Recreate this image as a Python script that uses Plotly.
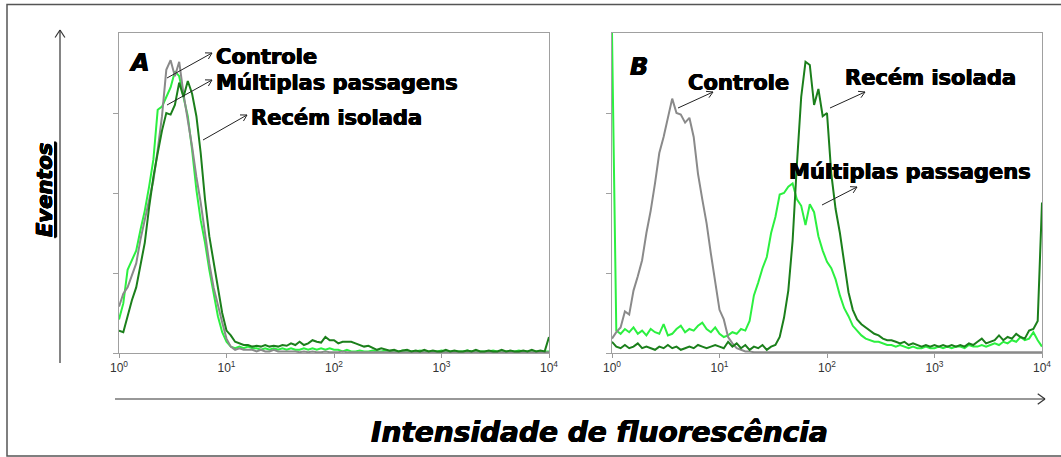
import math
import plotly.graph_objects as go

W, H = 1061, 457

# ---------------- data ----------------
# histogram channels on a log scale (decades from 10^0 to 10^4)
channel_log = [round(0.04 * i, 2) for i in range(101)]

# Panel A
a_controle = [29, 37, 41, 48, 56, 71, 83, 96, 108, 127,
              148, 177, 183, 173, 182, 162, 146, 129, 110, 94,
              75, 56, 41, 29, 19, 9, 4, 2, 3, 2,
              2, 2, 1, 2, 1, 1, 2, 1, 1, 1,
              1, 1, 0.5, 1, 0.5, 1, 0.5, 0.5, 1, 0.5,
              0.5, 0.5, 1, 0.5, 0.5, 0.5, 0.5, 0.5, 0.5, 0.5,
              0.5, 0.5, 0.5, 0.5, 0.5, 0.5, 0.5, 0.5, 0.5, 0.5,
              0.5, 0.5, 0.5, 0.5, 0.5, 0.5, 0.5, 0.5, 0.5, 0.5,
              0.5, 0.5, 0.5, 0.5, 0.5, 0.5, 0.5, 0.5, 0.5, 0.5,
              0.5, 0.5, 0.5, 0.5, 0.5, 0.5, 0.5, 0.5, 0.5, 0.5,
              0.5]
a_multiplas = [21, 31, 52, 58, 64, 77, 89, 104, 121, 152,
               154, 160, 166, 176, 173, 160, 148, 127, 102, 83,
               69, 52, 37, 23, 13, 7, 4, 3, 4, 3,
               4, 3, 3, 2, 3, 2, 3, 2, 3, 2,
               3, 2, 2, 3, 2, 3, 2, 3, 2, 3,
               2, 2, 1, 2, 1, 1, 1.5, 1, 1, 1.5,
               1, 1, 1.5, 1, 1, 1, 1.5, 1, 1, 1,
               1.5, 1, 1, 1, 1, 1.5, 1, 1, 1, 1,
               1, 1.5, 1, 1, 1, 1, 1, 1.5, 1, 1,
               1, 1, 1, 1.5, 1, 1, 1, 1, 1, 1,
               1]
a_recem = [14, 13, 23, 33, 41, 54, 69, 91, 110, 125,
           139, 150, 149, 155, 169, 160, 170, 162, 148, 125,
           96, 73, 56, 39, 25, 14, 11, 7, 6, 5,
           5, 4, 4.5, 4, 5, 4, 4.5, 4, 5, 4.5,
           6, 5, 7, 5, 6, 8, 7, 6.5, 10, 8,
           8, 6, 7, 7, 7, 6, 5, 4, 4.5, 3,
           2, 3, 2, 1.5, 2, 1, 1.5, 2, 1, 1.5,
           1, 2, 1, 1.5, 1, 1, 2, 1, 1.5, 1,
           1, 1.5, 1, 2, 1, 1, 1.5, 1, 1, 2,
           1, 1.5, 1, 1, 1.5, 1, 2, 1, 1.5, 1,
           10]

# Panel B
b_controle = [9, 13, 16, 26, 24, 39, 48, 58, 75, 89,
              106, 125, 135, 148, 159, 150, 149, 144, 147, 135,
              112, 96, 81, 62, 44, 27, 21, 10, 6, 3,
              2, 1, 1, 0.5, 0.5, 0.5, 0.5, 0.5, 0.5, 0.5,
              0.5, 0.5, 0.5, 0.5, 0.5, 0.5, 0.5, 0.5, 0.5, 0.5,
              0.5, 0.5, 0.5, 0.5, 0.5, 0.5, 0.5, 0.5, 0.5, 0.5,
              0.5, 0.5, 0.5, 0.5, 0.5, 0.5, 0.5, 0.5, 0.5, 0.5,
              0.5, 0.5, 0.5, 0.5, 0.5, 0.5, 0.5, 0.5, 0.5, 0.5,
              0.5, 0.5, 0.5, 0.5, 0.5, 0.5, 0.5, 0.5, 0.5, 0.5,
              0.5, 0.5, 0.5, 0.5, 0.5, 0.5, 0.5, 0.5, 0.5, 0.5,
              0.5]
b_multiplas = [200, 14, 12, 15, 13, 16, 12, 14, 11, 15,
               13, 12, 18, 11, 12, 15, 17, 13, 15, 14,
               17, 19, 15, 13, 16, 12, 10, 11, 13, 12,
               15, 14, 20, 36, 44, 53, 60, 75, 85, 99,
               100, 104, 106, 96, 92, 80, 93, 88, 73, 64,
               57, 53, 46, 36, 28, 23, 17, 14, 11, 9,
               8, 7, 7, 6, 5, 5, 4, 5, 4, 3,
               4, 3, 3, 4, 3, 3, 4, 3, 4, 3,
               4, 4, 3, 5, 4, 4, 5, 4, 5, 6,
               5, 7, 6, 8, 7, 10, 8, 9, 13, 8,
               4]
b_recem = [7, 4, 3, 5, 3, 4, 6, 3, 4, 3,
           2, 4, 3, 5, 3, 4, 2, 3, 4, 3,
           5, 4, 3, 4, 5, 4, 3, 7, 4, 6,
           3, 5, 2, 4, 3, 5, 2, 4, 5, 10,
           22, 39, 70, 118, 160, 182, 180, 155, 165, 148,
           150, 112, 90, 75, 56, 38, 27, 21, 18, 16,
           14, 12, 11, 9, 8, 8, 7, 6, 7, 5,
           6, 5, 4, 5, 4, 5, 4, 5, 4, 5,
           4, 5, 4, 6, 5, 7, 9, 6, 7, 8,
           11, 8, 10, 9, 12, 10, 9, 14, 15, 20,
           94]

tick_vals = [1, 10, 100, 1000, 10000]
tick_text = ["10<sup>0</sup>", "10<sup>1</sup>", "10<sup>2</sup>",
             "10<sup>3</sup>", "10<sup>4</sup>"]
count_ticks = [0, 50, 100, 150]

series_names = ["Múltiplas passagens", "Controle", "Recém isolada"]
series_colors = ["#2cf040", "#8a8a8a", "#1b7f1b"]

intensity = [10 ** c for c in channel_log]

# ---------------- figure ----------------
fig = go.Figure()

panel_data = [
    ("x", "y", [a_multiplas, a_controle, a_recem]),
    ("x2", "y2", [b_multiplas, b_controle, b_recem]),
]
for xa, ya, ser in panel_data:
    for name, col, vals in zip(series_names, series_colors, ser):
        fig.add_trace(go.Scatter(
            x=intensity, y=vals, mode="lines", name=name,
            line=dict(color=col, width=2), xaxis=xa, yaxis=ya,
            showlegend=False, hoverinfo="skip"))


def px(x):
    return x / W


def py(y):
    return 1 - y / H


xcommon = dict(type="log", range=[0, 4], tickvals=tick_vals, ticktext=tick_text,
               ticks="outside", ticklen=4, tickcolor="#999999",
               tickfont=dict(family="Liberation Sans, Arial", size=12, color="#333333"),
               showline=True, linecolor="#a0a0a0", linewidth=1, mirror=True,
               showgrid=False, zeroline=False, fixedrange=True, automargin=False)
ycommon = dict(range=[0, 200], tickvals=count_ticks, showticklabels=False,
               ticks="outside", ticklen=5, tickcolor="#a0a0a0",
               showline=True, linecolor="#a0a0a0", linewidth=1, mirror=True,
               showgrid=False, zeroline=False, fixedrange=True, automargin=False)

ydom = [py(353), py(33)]
fig.update_layout(
    width=W, height=H, autosize=False,
    margin=dict(l=0, r=0, t=0, b=0, pad=0),
    paper_bgcolor="white", plot_bgcolor="white",
    xaxis=dict(domain=[px(119), px(549)], anchor="y", **xcommon),
    yaxis=dict(domain=ydom, anchor="x", **ycommon),
    xaxis2=dict(domain=[px(612), px(1042)], anchor="y2", **xcommon),
    yaxis2=dict(domain=ydom, anchor="x2", **ycommon),
)

shapes = []
# outer frame
shapes.append(dict(type="rect", xref="paper", yref="paper",
                   x0=px(7), x1=px(1075), y0=py(456), y1=py(4.5),
                   line=dict(color="#555555", width=1.5)))


def arrow(x0, y0, x1, y1, head=7, ang=30, color="#222222", width=1):
    dx, dy = x1 - x0, y1 - y0
    L = math.hypot(dx, dy)
    ux, uy = dx / L, dy / L
    out = [dict(type="line", xref="paper", yref="paper",
                x0=px(x0), y0=py(y0), x1=px(x1), y1=py(y1),
                line=dict(color=color, width=width))]
    for s in (1, -1):
        a = math.radians(ang) * s
        vx, vy = -ux, -uy
        rx = vx * math.cos(a) - vy * math.sin(a)
        ry = vx * math.sin(a) + vy * math.cos(a)
        out.append(dict(type="line", xref="paper", yref="paper",
                        x0=px(x1), y0=py(y1), x1=px(x1 + head * rx), y1=py(y1 + head * ry),
                        line=dict(color=color, width=width)))
    return out


# big axis arrows
shapes += arrow(60, 363, 60, 30, head=9, ang=33, color="#333333", width=1.2)
shapes += arrow(115, 399, 1045, 399, head=9, ang=36, color="#333333", width=1.2)
# panel A label arrows
shapes += arrow(167, 78, 212, 53)
shapes += arrow(167, 105, 212, 80)
shapes += arrow(203, 140, 247, 115)
# panel B label arrows
shapes += arrow(678, 108, 713, 92)
shapes += arrow(830, 108, 865, 92)
shapes += arrow(822, 205, 857, 187)

fig.update_layout(shapes=shapes)

heavy = "0.6px 0 0 #000, -0.4px 0 0 #000, 0 0.3px 0 #000"
lab_font = dict(family="DejaVu Sans", size=21, color="black", weight="bold", shadow=heavy)
letter_font = dict(family="DejaVu Sans", size=24, color="black", weight="bold",
                   style="italic", shadow=heavy)

annots = [
    ("A", 127, 63, letter_font),
    ("B", 628, 67, letter_font),
    ("Controle", 214, 57, lab_font),
    ("Múltiplas passagens", 214, 83, lab_font),
    ("Recém isolada", 249, 118, lab_font),
    ("Controle", 686, 83, lab_font),
    ("Recém isolada", 843, 78, lab_font),
    ("Múltiplas passagens", 787, 172, lab_font),
]
for txt, x, y, f in annots:
    fig.add_annotation(text=txt, x=px(x), y=py(y), xref="paper", yref="paper",
                       xanchor="left", yanchor="middle", showarrow=False, font=f)

fig.add_annotation(text="Eventos", x=px(45), y=py(190), xref="paper", yref="paper",
                   xanchor="center", yanchor="middle", showarrow=False, textangle=-90,
                   font=dict(family="DejaVu Sans", size=21, color="black", weight="bold",
                             style="italic", lineposition="under", shadow=heavy))
fig.add_annotation(text="Intensidade de fluorescência", x=px(599), y=py(432),
                   xref="paper", yref="paper", xanchor="center", yanchor="middle",
                   showarrow=False,
                   font=dict(family="DejaVu Sans", size=28, color="black", weight="bold",
                             style="italic", shadow=heavy))

fig.write_html("out.html", config={"displayModeBar": False, "responsive": False})
